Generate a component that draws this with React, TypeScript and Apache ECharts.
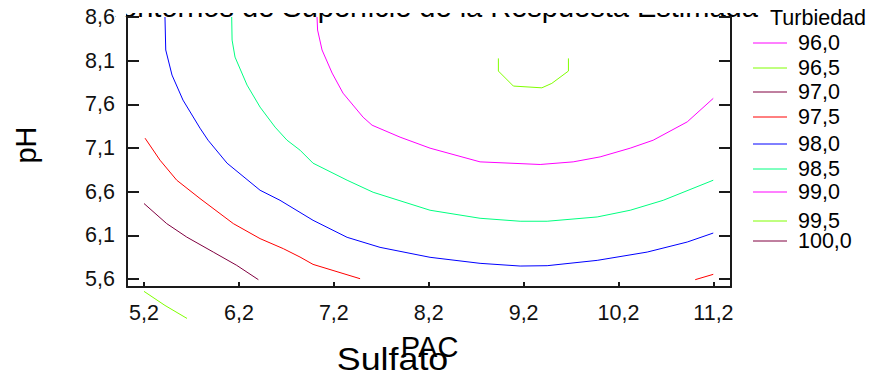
import React, { useEffect, useRef } from "react";
import * as echarts from "echarts";

// ---- data ----
const xTicks = [5.2, 6.2, 7.2, 8.2, 9.2, 10.2, 11.2];
const yTicks = [5.6, 6.1, 6.6, 7.1, 7.6, 8.1, 8.6];
const levels = [96.0, 96.5, 97.0, 97.5, 98.0, 98.5, 99.0, 99.5, 100.0];
const legendTitle = "Turbiedad";
const chartTitle = "Contornos de Superficie de la Respuesta Estimada";
const xName1 = "PAC";
const xName2 = "Sulfato";
const yName = "pH";

// contour polylines [PAC, pH]
const c96_5: [number, number][] = [
  [5.2, 5.458], [5.421, 5.297], [5.653, 5.148],
];
const c97_0: [number, number][] = [
  [5.2, 6.464], [5.439, 6.234], [5.65, 6.08], [5.93, 5.908], [6.177, 5.756], [6.405, 5.592],
];
const c97_5a: [number, number][] = [
  [5.211, 7.212], [5.369, 6.96], [5.545, 6.731], [5.79, 6.521], [6.141, 6.234],
  [6.423, 6.062], [6.668, 5.947], [6.844, 5.851], [6.981, 5.767], [7.477, 5.603],
];
const c97_5b: [number, number][] = [
  [11.008, 5.592], [11.198, 5.653],
];
const c98_0: [number, number][] = [
  [5.421, 8.6], [5.429, 8.222], [5.495, 7.935], [5.611, 7.648], [5.79, 7.327],
  [5.875, 7.189], [6.075, 6.926], [6.423, 6.616], [6.633, 6.501], [6.981, 6.272],
  [7.34, 6.077], [7.687, 5.962], [8.214, 5.848], [8.741, 5.779], [9.163, 5.748],
  [9.448, 5.752], [9.975, 5.813], [10.502, 5.908], [10.924, 6.023], [11.198, 6.126],
];
const c98_5: [number, number][] = [
  [6.124, 8.6], [6.128, 8.336], [6.159, 8.141], [6.286, 7.82], [6.423, 7.568],
  [6.581, 7.339], [6.707, 7.189], [6.844, 7.075], [6.981, 6.926], [7.34, 6.731],
  [7.614, 6.593], [8.214, 6.387], [8.741, 6.295], [9.163, 6.261], [9.448, 6.261],
  [9.975, 6.31], [10.323, 6.387], [10.671, 6.501], [11.198, 6.731],
];
const c99_0: [number, number][] = [
  [7.023, 8.6], [7.029, 8.451], [7.076, 8.222], [7.182, 7.958], [7.297, 7.728],
  [7.508, 7.453], [7.603, 7.361], [7.898, 7.224], [8.214, 7.098], [8.741, 6.941],
  [9.374, 6.911], [9.722, 6.941], [10.006, 6.998], [10.323, 7.098], [10.565, 7.189],
  [10.924, 7.399], [11.198, 7.668],
];
const c99_5: [number, number][] = [
  [8.934, 8.126], [8.934, 7.981], [9.092, 7.809], [9.392, 7.789], [9.497, 7.84],
  [9.672, 7.981], [9.672, 8.126],
];

const contours: { level: number; points: [number, number][] }[] = [
  { level: 96.5, points: c96_5 },
  { level: 97.0, points: c97_0 },
  { level: 97.5, points: c97_5a },
  { level: 97.5, points: c97_5b },
  { level: 98.0, points: c98_0 },
  { level: 98.5, points: c98_5 },
  { level: 99.0, points: c99_0 },
  { level: 99.5, points: c99_5 },
];

// ---- styles / layout ----
const levelColors = [
  "#ff00ff", "#80ff00", "#800040", "#ff0000", "#0000ff",
  "#00ff80", "#ff00ff", "#80ff00", "#800040",
];
const legendRowY = [43, 68, 92, 117, 144, 169, 192, 221, 241];
const FONT = '"Liberation Sans", Arial, Helvetica, sans-serif';
const AXIS_COLOR = "#1a1a1a";

// white masks that hide the upper part of the (cut-off) title, as in the reference
const masks = [
  { left: 116, top: 0, width: 649, height: 13 },
  { left: 0, top: 0, width: 116, height: 6 },
  { left: 115, top: 0, width: 10.5, height: 15.5 },
];

const fmt = (v: number) => v.toFixed(1).replace(".", ",");

function textEl(
  text: string, x: number, y: number, size: number, align: string,
  extra: Record<string, unknown> = {}, lineHeight?: number
) {
  return {
    type: "text",
    x,
    y,
    ...extra,
    style: {
      text,
      font: `${size}px ${FONT}`,
      fontSize: size,
      fontFamily: FONT,
      fill: "#000",
      align,
      textAlign: align,
      verticalAlign: "middle",
      textVerticalAlign: "middle",
      ...(lineHeight ? { lineHeight } : {}),
    },
  };
}

export default function App() {
  const ref = useRef<HTMLDivElement>(null);

  useEffect(() => {
    if (!ref.current) return;
    const chart = echarts.init(ref.current, undefined, { renderer: "svg" });

    const series = contours.map((c) => ({
      type: "line",
      data: c.points,
      showSymbol: false,
      symbol: "none",
      clip: false,
      silent: true,
      lineStyle: { color: levelColors[levels.indexOf(c.level)], width: 1 },
      xAxisIndex: 0,
      yAxisIndex: 0,
      z: 3,
    }));

    const graphics: any[] = [
      textEl(yName, 26, 145, 29, "center", { rotation: Math.PI / 2 }),
      textEl(xName1, 429.6, 347, 29, "center"),
      textEl(xName2, 392.5, 359.4, 30.5, "center", { scaleX: 1.175 }),
      textEl(legendTitle, 770, 17.5, 21.5, "left"),
    ];
    levels.forEach((lv, i) => {
      graphics.push({
        type: "line",
        shape: { x1: 753, y1: legendRowY[i], x2: 787, y2: legendRowY[i] },
        style: { stroke: levelColors[i], lineWidth: 1 },
      });
      graphics.push(textEl(fmt(lv), 798, legendRowY[i], 21.5, "left", {}, 19));
    });

    const yAxisBase = {
      type: "value",
      min: 5.508,
      max: 8.6,
      splitLine: { show: false },
      axisLine: { show: true, onZero: false, lineStyle: { color: AXIS_COLOR, width: 2 } },
      axisTick: {
        show: true,
        inside: true,
        length: 12,
        customValues: yTicks,
        lineStyle: { color: AXIS_COLOR, width: 2 },
      },
    };

    chart.setOption({
      animation: false,
      backgroundColor: "#fff",
      title: {
        text: chartTitle,
        left: 429,
        top: -7.8,
        textAlign: "center",
        padding: 0,
        z: -1,
        textStyle: {
          fontSize: 29,
          fontFamily: FONT,
          fontWeight: "normal",
          color: "#000",
        },
      },
      grid: { left: 127, right: 142, top: 17, bottom: 92, containLabel: false },
      xAxis: {
        type: "value",
        min: 5.0208,
        max: 11.385,
        splitLine: { show: false },
        axisLine: { show: true, onZero: false, lineStyle: { color: AXIS_COLOR, width: 2 } },
        axisTick: {
          show: true,
          inside: true,
          length: 5,
          customValues: xTicks,
          lineStyle: { color: AXIS_COLOR, width: 2 },
        },
        axisLabel: {
          customValues: xTicks,
          formatter: fmt,
          fontSize: 21.5,
          fontFamily: FONT,
          color: "#111",
          margin: 15,
        },
      },
      yAxis: [
        {
          ...yAxisBase,
          position: "left",
          axisLabel: {
            customValues: yTicks,
            formatter: fmt,
            fontSize: 21.5,
            fontFamily: FONT,
            color: "#111",
            margin: 12,
            backgroundColor: "#fff",
          },
        },
        {
          ...yAxisBase,
          position: "right",
          axisLabel: { show: false },
        },
      ],
      series,
      graphic: { elements: graphics },
    });

    return () => chart.dispose();
  }, []);

  return (
    <div style={{ position: "absolute", left: 0, top: 0, width: 873, height: 379, background: "#fff" }}>
      <div ref={ref} style={{ position: "absolute", left: 0, top: 0, width: 873, height: 379 }} />
      {masks.map((m, i) => (
        <div
          key={i}
          style={{
            position: "absolute",
            left: m.left,
            top: m.top,
            width: m.width,
            height: m.height,
            background: "#fff",
            zIndex: 2,
            pointerEvents: "none",
          }}
        />
      ))}
    </div>
  );
}
